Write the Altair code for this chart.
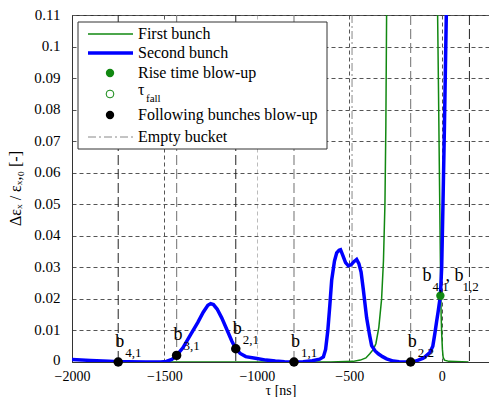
import altair as alt
import pandas as pd

FONT = "Liberation Serif, Times New Roman, DejaVu Serif, serif"

# ---------------- data ----------------
tau_first = [-1500, -600, -480, -440, -410, -389, -370, -356, -340, -325, -315, -307,
             -302, -298, -294, -30, -22, -17, -12, -7, -3, 0, 4, 8, 15, 40, 145]
eps_first = [0, 0, 0.0002, 0.0006, 0.0013, 0.0026, 0.004, 0.0058, 0.011, 0.02, 0.032, 0.05,
             0.075, 0.11, 0.15, 0.15, 0.11, 0.085, 0.058, 0.032, 0.015, 0.009, 0.004, 0.0015,
             0.0006, 0.0002, 0]

tau_second = [-2000, -1900, -1800, -1750, -1700, -1600, -1520, -1490, -1460, -1434, -1400,
              -1360, -1320, -1290, -1265, -1250, -1235, -1215, -1190, -1160, -1135, -1114,
              -1090, -1060, -1000, -950, -900, -850, -799, -750, -700, -660, -640, -628,
              -616, -605, -595, -580, -568, -555, -547, -535, -520, -505, -490, -475, -460,
              -448, -436, -424, -406, -390, -379, -360, -343, -320, -298, -262, -230, -168,
              -140, -100, -64, -48, -37, -27, -19, -7, 0, 7, 15, 25, 35, 280, 300]
eps_second = [0.0008, 0.0005, 0.0002, 0.0001, 0.00005, 0, 0, 0.0002, 0.0008, 0.0021, 0.0045,
              0.0085, 0.0125, 0.0158, 0.018, 0.0185, 0.0182, 0.0168, 0.014, 0.01, 0.0066, 0.0042,
              0.0027, 0.0017, 0.0011, 0.0006, 0.0003, 0.0001, 0, 0.0001, 0.0004, 0.0009, 0.0016,
              0.004, 0.01, 0.018, 0.026, 0.032, 0.0346, 0.0354, 0.0356, 0.0338, 0.0315, 0.0305,
              0.0308, 0.0318, 0.0325, 0.0312, 0.0285, 0.023, 0.014, 0.0085, 0.0052, 0.0035,
              0.0026, 0.0017, 0.001, 0.0003, 0.0001, 0, 0.0003, 0.0012, 0.003, 0.005, 0.009,
              0.013, 0.016, 0.021, 0.03, 0.05, 0.075, 0.11, 0.16, 0.3, 0.04]

follow_tau = [-1750, -1434, -1114, -799, -168]
follow_eps = [0, 0.0021, 0.0042, 0, 0]
follow_sub = ["4,1", "3,1", "2,1", "1,1", "2,2"]

rise_tau = [-7]
rise_eps = [0.021]

bunch_dark = [-1750, -1114, 150]
bunch_gray = [-1434, -799, -168]
empty_bucket = [-485]

x_ticks = [-2000, -1500, -1000, -500, 0]
y_ticks = [0, 0.01, 0.02, 0.03, 0.04, 0.05, 0.06, 0.07, 0.08, 0.09, 0.1, 0.11]

legend_labels = ["First bunch", "Second bunch", "Rise time blow-up", "τ",
                 "Following bunches blow-up", "Empty bucket"]

GREEN = "#118811"
BLUE = "#0000ff"

xs = alt.Scale(domain=[-2000, 256], nice=False, zero=False)
ys = alt.Scale(domain=[0, 0.11], nice=False, zero=False)

x_axis = alt.Axis(values=x_ticks, title="τ [ns]", format="d", labelFlush=False,
                  gridColor=alt.condition("datum.value == -1000", alt.value("#bbbbbb"), alt.value("#555555")))
y_axis = alt.Axis(values=y_ticks, title="Δεₓ / εₓ,₀ [-]", format="~g",
                  labelBaseline=alt.condition("datum.value == 0", alt.value("bottom"), alt.value("middle")),
                  labelOffset=alt.condition("datum.value == 0", alt.value(5), alt.value(-1)),
                  titleX=-57, titleY=173, titleBaseline="middle")

df_first = pd.DataFrame({"tau": tau_first, "eps": eps_first})
df_second = pd.DataFrame({"tau": tau_second, "eps": eps_second})
df_follow = pd.DataFrame({"tau": follow_tau, "eps": follow_eps, "sub": follow_sub})
df_rise = pd.DataFrame({"tau": rise_tau, "eps": rise_eps})

base_x = alt.X("tau:Q", scale=xs, axis=x_axis)
base_y = alt.Y("eps:Q", scale=ys, axis=y_axis)

dark_lines = alt.Chart(pd.DataFrame({"tau": bunch_dark})).mark_rule(
    color="#222222", strokeDash=[10, 4], strokeWidth=1).encode(x=base_x)
gray_lines = alt.Chart(pd.DataFrame({"tau": bunch_gray})).mark_rule(
    color="#888888", strokeDash=[10, 4], strokeWidth=1.2).encode(x=base_x)
empty_lines = alt.Chart(pd.DataFrame({"tau": empty_bucket})).mark_rule(
    color="#888888", strokeDash=[8, 3, 2, 3], strokeWidth=1).encode(x=base_x)

first_line = alt.Chart(df_first).mark_line(color=GREEN, strokeWidth=1.5, clip=True).encode(
    x=base_x, y=base_y, order="index:Q").transform_window(index="row_number()")
second_line = alt.Chart(df_second).mark_line(color=BLUE, strokeWidth=3.5, clip=True).encode(
    x=base_x, y=base_y, order="index:Q").transform_window(index="row_number()")

follow_pts = alt.Chart(df_follow).mark_point(filled=True, color="black", size=90, opacity=1).encode(
    x=base_x, y=base_y)
rise_pt = alt.Chart(df_rise).mark_point(filled=True, color=GREEN, size=70, opacity=1).encode(
    x=base_x, y=base_y)

lbl_b = alt.Chart(df_follow).mark_text(text="b", font=FONT, fontSize=18, align="left",
                                       baseline="alphabetic", dx=-3, dy=-15).encode(x=base_x, y=base_y)
lbl_sub = alt.Chart(df_follow).mark_text(font=FONT, fontSize=13, align="left",
                                         baseline="alphabetic", dx=7, dy=-5).encode(
    x=base_x, y=base_y, text="sub:N")

rise_b1 = alt.Chart(df_rise).mark_text(text="b", font=FONT, fontSize=18, align="left",
                                       baseline="alphabetic", dx=-18, dy=-15).encode(x=base_x, y=base_y)
rise_s1 = alt.Chart(df_rise).mark_text(text="4,1", font=FONT, fontSize=13, align="left",
                                       baseline="alphabetic", dx=-8, dy=-5).encode(x=base_x, y=base_y)
rise_b2 = alt.Chart(df_rise).mark_text(text=", b", font=FONT, fontSize=18, align="left",
                                       baseline="alphabetic", dx=5, dy=-15).encode(x=base_x, y=base_y)
rise_s2 = alt.Chart(df_rise).mark_text(text="1,2", font=FONT, fontSize=13, align="left",
                                       baseline="alphabetic", dx=22, dy=-5).encode(x=base_x, y=base_y)

# ---------------- manual legend ----------------
one = alt.Data(values=[{}])
leg_box = alt.Chart(one).mark_rect(fill="white", stroke="#333333", strokeWidth=1).encode(
    x=alt.value(6), x2=alt.value(255), y=alt.value(7), y2=alt.value(134))

row_y = [19, 38, 58, 79, 100, 122]
TX = 66
leg_items = [leg_box]
leg_items.append(alt.Chart(one).mark_rule(color=GREEN, strokeWidth=1.5).encode(
    x=alt.value(16), x2=alt.value(61), y=alt.value(row_y[0])))
leg_items.append(alt.Chart(one).mark_rule(color=BLUE, strokeWidth=3.5).encode(
    x=alt.value(16), x2=alt.value(61), y=alt.value(row_y[1])))
leg_items.append(alt.Chart(one).mark_point(filled=True, color=GREEN, size=70, opacity=1).encode(
    x=alt.value(38), y=alt.value(row_y[2])))
leg_items.append(alt.Chart(one).mark_point(filled=False, color=GREEN, size=60, strokeWidth=1, opacity=1).encode(
    x=alt.value(38), y=alt.value(row_y[3])))
leg_items.append(alt.Chart(one).mark_point(filled=True, color="black", size=70, opacity=1).encode(
    x=alt.value(38), y=alt.value(row_y[4])))
leg_items.append(alt.Chart(one).mark_rule(color="#888888", strokeWidth=1, strokeDash=[8, 3, 2, 3]).encode(
    x=alt.value(16), x2=alt.value(61), y=alt.value(row_y[5])))
for i, lab in enumerate(legend_labels):
    leg_items.append(alt.Chart(one).mark_text(text=lab, font=FONT, fontSize=16, align="left",
                                              baseline="middle").encode(
        x=alt.value(TX), y=alt.value(row_y[i] if i != 3 else row_y[i] - 4)))
leg_items.append(alt.Chart(one).mark_text(text="fall", font=FONT, fontSize=11, align="left",
                                          baseline="middle").encode(
    x=alt.value(TX + 8), y=alt.value(row_y[3] + 5)))

chart = alt.layer(
    dark_lines, gray_lines, empty_lines, first_line, second_line,
    follow_pts, rise_pt, lbl_b, lbl_sub, rise_b1, rise_s1, rise_b2, rise_s2,
    *leg_items
).properties(
    width=417, height=347,
    autosize=alt.AutoSizeParams(type="none"),
    padding={"left": 64, "top": 7, "right": 0, "bottom": 35},
).configure_view(
    stroke="#333333", strokeWidth=1
).configure_axis(
    labelFont=FONT, labelFontSize=15, labelColor="black",
    titleFont=FONT, titleFontSize=16, titleColor="black", titleFontWeight="normal",
    domainColor="#333333", ticks=False, tickSize=0,
    grid=True, gridDash=[4, 3], gridWidth=1,
).configure_axisX(
    labelPadding=7, labelFontSize=14, titlePadding=0, titleFontSize=14
).configure_axisY(
    labelPadding=12, gridColor="#555555"
)

chart.save("out.html", embed_options={"renderer": "svg", "actions": False})
